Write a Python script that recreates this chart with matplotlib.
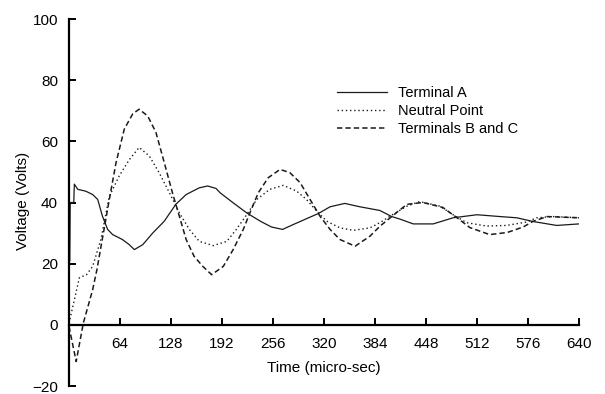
import numpy as np
import matplotlib
matplotlib.use('Agg')
import matplotlib.pyplot as plt

plt.rcParams['font.family'] = ['Liberation Sans', 'DejaVu Sans']

# Terminal A (solid)
t_a = [0, 1, 1.5, 6, 6.7, 11, 21, 29.7, 36, 42, 48.5, 54.8, 67, 75.7, 82, 92.5, 105, 119.6,
       134, 147, 163.5, 174, 184.5, 189.5, 206, 223, 240, 254, 268, 281.5, 298, 313, 327.6,
       346, 365, 390, 405, 415, 432, 457, 482, 512, 541, 562, 582, 612, 640]
v_a = [20, 21, 40, 40, 46, 44.3, 43.7, 42.6, 41, 35.5, 31.2, 29.5, 27.9, 26.2, 24.6, 26.2,
       30, 33.9, 39.4, 42.6, 44.8, 45.4, 44.6, 43.2, 39.9, 36.6, 33.9, 32, 31.2, 32.8, 34.7,
       36.4, 38.6, 39.7, 38.6, 37.4, 35.4, 34.6, 33, 33, 35, 36, 35.4, 35, 33.8, 32.5, 33]

# Neutral Point (dotted)
t_n = [0, 13, 22, 29.7, 40, 50.6, 63, 75.7, 88, 100.8, 113, 126, 138.5, 151, 163.5, 181,
       198, 210, 223, 235.6, 252, 269, 285.8, 298, 310.8, 323.4, 340, 356.8, 377.7, 390,
       406, 424, 440, 465.6, 482, 499, 524, 549, 574, 587, 608, 640]
v_n = [0.5, 15.4, 16.4, 19.1, 27.9, 42, 48.7, 54, 58, 55.2, 49.8, 43.2, 36.6, 31.2, 27.3,
       25.9, 27.3, 31.2, 36, 41, 44.3, 45.6, 43.7, 41, 37.2, 33.9, 31.7, 30.9, 31.7, 33.4,
       36, 38.8, 40.3, 38.8, 36, 33.4, 32.3, 32.5, 33.6, 35, 35.4, 35]

# Terminals B and C (dashed)
t_bc = [0, 9, 18, 29.7, 35, 50.6, 59, 69.4, 80, 88, 98.7, 109, 119.6, 130, 138.5, 147, 157,
        168, 179, 193.6, 206, 218.7, 227, 237.6, 250, 264.8, 277, 290, 302.5, 315, 327.6,
        340, 359, 377.7, 390, 403, 424, 444, 469, 487, 503, 528, 550, 570, 582, 600, 640]
v_bc = [-0.5, -12, 0.6, 11.5, 18, 41, 53, 64, 69, 70.5, 68.3, 63, 53, 43, 35.5, 27.9, 22.4,
        19.1, 16.4, 19.1, 24.6, 31.2, 36.6, 43.2, 48.1, 50.8, 49.8, 46.5, 41, 35.5, 31.2,
        27.9, 25.7, 29, 32.2, 35, 39.4, 40, 38.4, 35, 31.8, 29.5, 30.2, 32, 33.8, 35.4, 35]

x_ticks = [64, 128, 192, 256, 320, 384, 448, 512, 576, 640]
y_ticks = [-20, 0, 20, 40, 60, 80, 100]
y_tick_labels = ['\u221220', '0', '20', '40', '60', '80', '100']

fig = plt.figure(figsize=(6.05, 3.94), dpi=100)
ax = fig.add_axes([69 / 605, 1 - 386 / 394, 510 / 605, 367 / 394])

ax.plot(t_a, v_a, color='#1a1a1a', lw=0.9, label='Terminal A')
ax.plot(t_n, v_n, color='#1a1a1a', lw=1.0, linestyle=(0, (1, 2)), label='Neutral Point')
ax.plot(t_bc, v_bc, color='#1a1a1a', lw=1.1, linestyle=(0, (3.5, 2)), label='Terminals B and C')

ax.set_xlim(0, 640)
ax.set_ylim(-20, 100)
ax.spines['top'].set_visible(False)
ax.spines['right'].set_visible(False)
ax.spines['bottom'].set_position(('data', 0))
ax.spines['left'].set_linewidth(1.6)
ax.spines['bottom'].set_linewidth(1.6)

ax.set_xticks(x_ticks)
ax.set_yticks(y_ticks)
ax.set_yticklabels(y_tick_labels)
ax.tick_params(direction='in', length=5, width=1.4, labelsize=11, color='black')
ax.tick_params(axis='y', pad=8)
ax.tick_params(axis='x', pad=9)

fig.text(324 / 605, 1 - 368 / 394, 'Time (micro-sec)', ha='center', va='center', fontsize=11)
fig.text(23 / 605, 1 - 201 / 394, 'Voltage (Volts)', ha='center', va='center',
         rotation=90, fontsize=11)

ax.legend(loc='upper left', bbox_to_anchor=(268 / 510, 1 - 67 / 367), frameon=False,
          fontsize=10.5, handlelength=3.4, handletextpad=0.8, labelspacing=0.27,
          borderaxespad=0, borderpad=0)

fig.savefig('out.png', dpi=100)
